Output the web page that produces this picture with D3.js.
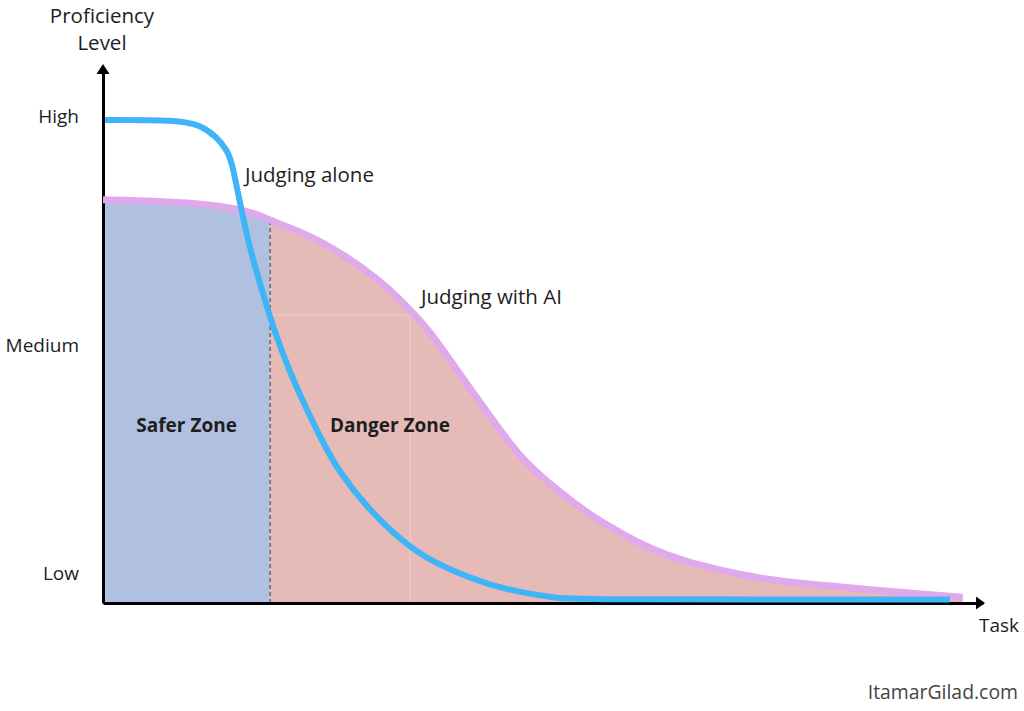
<!DOCTYPE html>
<html>
<head>
<meta charset="utf-8">
<script src="https://cdn.jsdelivr.net/npm/d3@7"></script>
<style>
  body { margin: 0; background: #fff; }
  svg { display: block; font-family: "Open Sans", sans-serif; }
</style>
</head>
<body>
<svg id="chart" width="1024" height="711"></svg>
<script>
// task difficulty (0-100) vs proficiency (0-110)
const aloneTask  = [0.23, 8.5, 11.0, 12.95, 14.1, 14.66, 15.34, 16.14, 17.05, 18.18, 19.32, 21.25, 23.18, 25.0, 26.93, 30.0, 32.95, 36.36, 40.23, 43.98, 47.73, 51.59, 54.2, 96.25];
const aloneLevel = [99.3, 99.3, 98.3, 95.8, 93.1, 90.5, 84.3, 77.3, 70.5, 63.7, 56.7, 47.3, 39.7, 32.9, 26.7, 19.7, 14.4, 9.5, 6.2, 3.7, 2.1, 1.0, 0.7, 0.7];

const aiTask  = [0, 6.5, 12.16, 17.05, 18.98, 20.45, 25.45, 31.48, 34.0, 36.8, 39.43, 42.05, 45.11, 47.39, 51.14, 55.0, 58.75, 62.5, 66.36, 70.1, 73.86, 77.7, 81.5, 87.2, 92.8, 97.7];
const aiLevel = [82.9, 82.6, 82.0, 80.4, 78.7, 77.7, 74.0, 66.4, 61.9, 56.7, 50.0, 43.2, 35.6, 30.0, 23.8, 18.5, 14.4, 10.9, 8.4, 6.8, 5.3, 4.3, 3.7, 2.7, 1.85, 1.2];

const levelTicks  = [6, 53, 100];
const levelLabels = ["Low", "Medium", "High"];

const zoneSplit = 19;           // task where the safer zone ends
const faintMark = [34.9, 59.2]; // faint guide corner in the danger zone

const svg = d3.select("#chart");

const x = d3.scaleLinear().domain([0, 100]).range([103, 983]);
const y = d3.scaleLinear().domain([0, 110]).range([603, 68]);

const alone = aloneTask.map((t, i) => [t, aloneLevel[i]]);
const withAI = aiTask.map((t, i) => [t, aiLevel[i]]);

const line = d3.line().x(d => x(d[0])).y(d => y(d[1])).curve(d3.curveBasis);
const area = d3.area().x(d => x(d[0])).y0(y(0)).y1(d => y(d[1])).curve(d3.curveBasis);

// clip areas for the two zones
const defs = svg.append("defs");
defs.append("clipPath").attr("id", "safe")
  .append("rect").attr("x", x(0)).attr("y", 0)
  .attr("width", x(zoneSplit) - x(0)).attr("height", y(0));
defs.append("clipPath").attr("id", "danger")
  .append("rect").attr("x", x(zoneSplit)).attr("y", 0)
  .attr("width", x(100) - x(zoneSplit)).attr("height", y(0));

svg.append("path").datum(withAI).attr("d", area)
  .attr("fill", "#b0c0e1").attr("clip-path", "url(#safe)");
svg.append("path").datum(withAI).attr("d", area)
  .attr("fill", "#e5bab7").attr("clip-path", "url(#danger)");

// faint guides
svg.append("line")
  .attr("x1", x(zoneSplit)).attr("x2", x(faintMark[0]))
  .attr("y1", y(faintMark[1])).attr("y2", y(faintMark[1]))
  .attr("stroke", "#fff").attr("stroke-opacity", 0.25).attr("stroke-width", 1.2);
svg.append("line")
  .attr("x1", x(faintMark[0])).attr("x2", x(faintMark[0]))
  .attr("y1", y(faintMark[1])).attr("y2", y(0))
  .attr("stroke", "#fff").attr("stroke-opacity", 0.25).attr("stroke-width", 1.2);

// zone divider
svg.append("line")
  .attr("x1", x(zoneSplit)).attr("x2", x(zoneSplit))
  .attr("y1", y(0)).attr("y2", y(78.5))
  .attr("stroke", "#6e6e6e").attr("stroke-width", 1.6)
  .attr("stroke-dasharray", "4,3");

// axes
const yAxis = d3.axisLeft(y).tickValues(levelTicks)
  .tickFormat((d, i) => levelLabels[i]).tickSize(0).tickPadding(24);
const gy = svg.append("g").attr("transform", `translate(${x(0)},0)`).call(yAxis);
gy.select(".domain").attr("stroke", "#000").attr("stroke-width", 3);
gy.selectAll(".tick text").attr("font-size", 19).attr("fill", "#1e1e1e")
  .attr("font-family", "Open Sans, sans-serif");

const xAxis = d3.axisBottom(x).tickValues([]).tickSizeOuter(0);
const gx = svg.append("g").attr("transform", `translate(0,${y(0)})`).call(xAxis);
gx.select(".domain").attr("stroke", "#000").attr("stroke-width", 3);

// arrow heads
svg.append("path")
  .attr("d", `M${x(0)},${y(110) - 4}l-6.5,10h13z`).attr("fill", "#000");
svg.append("path")
  .attr("d", `M${x(100) + 2},${y(0)}l-9,-6.5v13z`).attr("fill", "#000");

// curves
svg.append("path").datum(withAI).attr("d", line)
  .attr("fill", "none").attr("stroke", "#e0a9ec").attr("stroke-width", 7);
svg.append("path").datum(alone).attr("d", line)
  .attr("fill", "none").attr("stroke", "#3db5f6").attr("stroke-width", 6);

// texts
const txt = (s, px, py, opts = {}) => svg.append("text")
  .attr("x", px).attr("y", py).text(s)
  .attr("font-size", opts.size || 20.5)
  .attr("font-weight", opts.weight || 400)
  .attr("text-anchor", opts.anchor || "start")
  .attr("fill", opts.fill || "#1e1e1e");

txt("Proficiency", 102, 23, { anchor: "middle" });
txt("Level", 102, 50, { anchor: "middle" });
txt("Task", 979, 632, { size: 19 });
txt("Judging alone", 245, 182);
txt("Judging with AI", 421, 304);
txt("Safer Zone", (x(0) + x(zoneSplit)) / 2, 432, { anchor: "middle", weight: 700, size: 19 });
txt("Danger Zone", 390, 432, { anchor: "middle", weight: 700, size: 19 });
txt("ItamarGilad.com", 1018, 699, { anchor: "end", fill: "#444", size: 19.4 });
</script>
</body>
</html>
